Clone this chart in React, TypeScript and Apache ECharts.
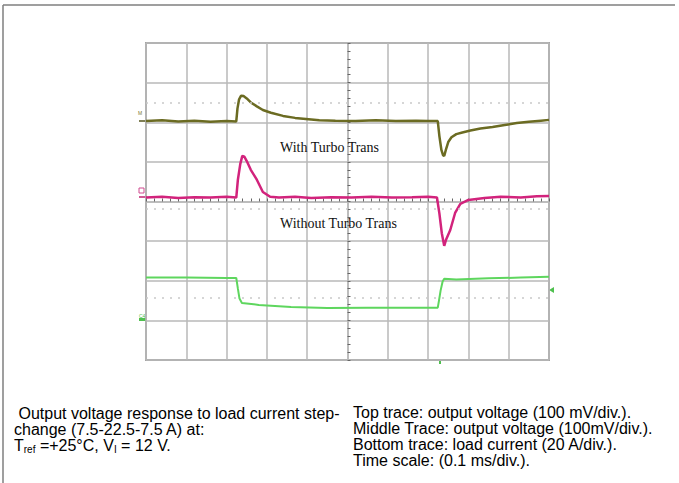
import React, { useEffect, useRef } from "react";
import * as echarts from "echarts";

// Time axis in divisions relative to screen centre (0.1 ms/div), amplitude in divisions relative to centre
const topTraceX = [-5, -4.6, -4.2, -3.8, -3.4, -3.0, -2.76, -2.73, -2.69, -2.64, -2.58, -2.5, -2.4, -2.25, -2.1, -1.9, -1.6, -1.3, -1.1, -0.7, -0.3, 0.2, 0.7, 1.2, 1.7, 2.0, 2.24, 2.28, 2.33, 2.37, 2.4, 2.44, 2.5, 2.58, 2.7, 2.85, 3.05, 3.3, 3.6, 3.9, 4.2, 4.5, 4.8, 5];
const topTraceY = [2.03, 2.05, 2.02, 2.04, 2.01, 2.03, 2.02, 2.35, 2.58, 2.67, 2.66, 2.6, 2.5, 2.4, 2.31, 2.24, 2.16, 2.11, 2.09, 2.05, 2.04, 2.03, 2.05, 2.03, 2.04, 2.03, 2.03, 1.65, 1.3, 1.17, 1.15, 1.3, 1.5, 1.62, 1.7, 1.74, 1.79, 1.84, 1.88, 1.93, 1.98, 2.01, 2.04, 2.06];

const midTraceX = [-5, -4.6, -4.2, -3.8, -3.4, -3.0, -2.76, -2.72, -2.66, -2.61, -2.56, -2.5, -2.4, -2.25, -2.1, -1.92, -1.7, -1.3, -0.9, -0.4, 0.1, 0.6, 1.1, 1.6, 2.0, 2.22, 2.28, 2.34, 2.4, 2.45, 2.55, 2.67, 2.8, 3.0, 3.4, 3.8, 4.3, 4.7, 5];
const midTraceY = [0.1, 0.12, 0.09, 0.11, 0.1, 0.12, 0.1, 0.55, 0.95, 1.15, 1.13, 1.02, 0.8, 0.55, 0.24, 0.12, 0.1, 0.12, 0.09, 0.11, 0.1, 0.12, 0.1, 0.11, 0.12, 0.1, -0.3, -0.8, -1.12, -0.95, -0.72, -0.29, -0.06, 0.04, 0.09, 0.12, 0.1, 0.13, 0.14];

const botTraceX = [-5, -4, -3, -2.76, -2.72, -2.68, -2.62, -2.2, -1.4, -0.5, 0.5, 1.5, 2.24, 2.27, 2.31, 2.36, 2.4, 2.7, 3.5, 4.3, 5];
const botTraceY = [-1.92, -1.92, -1.93, -1.93, -2.2, -2.45, -2.56, -2.61, -2.66, -2.69, -2.68, -2.68, -2.68, -2.5, -2.25, -2.02, -1.95, -1.97, -1.94, -1.92, -1.9];

// Reference-level dotted markers (divisions from centre)
const refLevels = [2.49, -0.19, -2.43];

const leftCaption = [" Output voltage response to load current step-", "change (7.5-22.5-7.5 A) at:"];
const rightCaption = [
  "Top trace: output voltage (100 mV/div.).",
  "Middle Trace: output voltage (100mV/div.).",
  "Bottom trace: load current (20 A/div.).",
  "Time scale: (0.1 ms/div.).",
];

const zip = (xs: number[], ys: number[]) => xs.map((x, i) => [x, ys[i]]);

export default function App() {
  const ref = useRef<HTMLDivElement>(null);
  useEffect(() => {
    if (!ref.current) return;
    const chart = echarts.init(ref.current, null, { renderer: "svg" });
    const sans = "'Liberation Sans', Arial, sans-serif";
    const serif = "'Liberation Serif', 'Times New Roman', serif";
    const gridColor = "#b9b9b9";
    const capFont = 16;
    const graphic: any[] = [
      { type: "line", shape: { x1: 3, y1: 5, x2: 675, y2: 5 }, style: { stroke: "#7f7f7f", lineWidth: 1.5 } },
      { type: "line", shape: { x1: 3, y1: 5, x2: 3, y2: 483 }, style: { stroke: "#7f7f7f", lineWidth: 1.5 } },
      { type: "text", x: 280, y: 147, style: { text: "With Turbo Trans", font: `14px ${serif}`, fill: "#111", verticalAlign: "middle" }, z: 10 },
      { type: "text", x: 280, y: 223, style: { text: "Without Turbo Trans", font: `14px ${serif}`, fill: "#111", verticalAlign: "middle" }, z: 10 },
      // channel markers
      { type: "text", x: 138, y: 113, style: { text: "M", font: `5px ${sans}`, fill: "#7a7a30", verticalAlign: "middle" } },
      { type: "line", shape: { x1: 139, y1: 121, x2: 147, y2: 121 }, style: { stroke: "#55551c", lineWidth: 1.5 } },
      { type: "rect", shape: { x: 139, y: 188, width: 5, height: 5 }, style: { fill: "none", stroke: "#d04a90", lineWidth: 1 } },
      { type: "line", shape: { x1: 139, y1: 197, x2: 147, y2: 197 }, style: { stroke: "#c02070", lineWidth: 1.5 } },
      { type: "text", x: 139, y: 316, style: { text: "C4", font: `5px ${sans}`, fill: "#4fc04f", verticalAlign: "middle" } },
      { type: "rect", shape: { x: 139, y: 318, width: 7, height: 3 }, style: { fill: "#4fc04f" } },
      { type: "polygon", shape: { points: [[549, 290], [554, 287], [554, 293]] }, style: { fill: "#4fc04f" } },
      { type: "rect", shape: { x: 439, y: 361, width: 2, height: 3 }, style: { fill: "#4fc04f" } },
    ];
    leftCaption.forEach((t, i) => {
      graphic.push({ type: "text", x: 14, y: 413 + i * 16, style: { text: t, font: `${capFont}px ${sans}`, fill: "#000", verticalAlign: "middle" } });
    });
    graphic.push({
      type: "text",
      x: 14,
      y: 445,
      style: {
        text: "{a|T}{s|ref}{a| =+25°C, V}{s|I}{a| = 12 V.}",
        verticalAlign: "middle",
        rich: {
          a: { fontSize: capFont, fontFamily: sans, fill: "#000", color: "#000", lineHeight: 18, verticalAlign: "middle" },
          s: { fontSize: 10, fontFamily: sans, fill: "#000", color: "#000", lineHeight: 18, verticalAlign: "bottom", padding: [7, 0, 0, 0] },
        },
      },
    });
    rightCaption.forEach((t, i) => {
      graphic.push({ type: "text", x: 353, y: 412 + i * 16, style: { text: t, font: `${capFont}px ${sans}`, fill: "#000", verticalAlign: "middle" } });
    });

    chart.setOption({
      animation: false,
      backgroundColor: "#fff",
      grid: { left: 146, top: 43, width: 403, height: 317, show: true, borderColor: "#a3a3a3", borderWidth: 2, containLabel: false },
      xAxis: {
        type: "value", min: -5, max: 5, interval: 1,
        axisLine: { show: true, onZero: true, lineStyle: { color: gridColor, width: 1.5 } },
        axisTick: { show: true, inside: true, length: 3, lineStyle: { color: "#666", width: 1 } },
        minorTick: { show: true, splitNumber: 5, length: 3, lineStyle: { color: "#666", width: 1 } },
        axisLabel: { show: false },
        splitLine: { show: true, lineStyle: { color: gridColor, width: 1.5 } },
      },
      yAxis: {
        type: "value", min: -4, max: 4, interval: 1,
        axisLine: { show: true, onZero: true, lineStyle: { color: gridColor, width: 1.5 } },
        axisTick: { show: true, inside: true, length: 3, lineStyle: { color: "#666", width: 1 } },
        minorTick: { show: true, splitNumber: 5, length: 3, lineStyle: { color: "#666", width: 1 } },
        axisLabel: { show: false },
        splitLine: { show: true, lineStyle: { color: gridColor, width: 1.5 } },
      },
      series: [
        {
          type: "line", name: "refs", data: [], silent: true,
          markLine: {
            symbol: "none", silent: true, label: { show: false },
            lineStyle: { color: "#c9c9c9", type: [2, 6], width: 1.5 },
            data: refLevels.map((v) => ({ yAxis: v })),
          },
        },
        { type: "line", name: "top", data: zip(topTraceX, topTraceY), showSymbol: false, lineStyle: { color: "#6b6b22", width: 2.5 }, z: 3 },
        { type: "line", name: "mid", data: zip(midTraceX, midTraceY), showSymbol: false, lineStyle: { color: "#d2237c", width: 2.5 }, z: 3 },
        { type: "line", name: "bot", data: zip(botTraceX, botTraceY), showSymbol: false, lineStyle: { color: "#5ed65e", width: 2 }, z: 3 },
      ],
      graphic,
    });
    return () => chart.dispose();
  }, []);
  return <div ref={ref} style={{ position: "fixed", left: 0, top: 0, width: 679, height: 483, background: "#fff" }} />;
}
